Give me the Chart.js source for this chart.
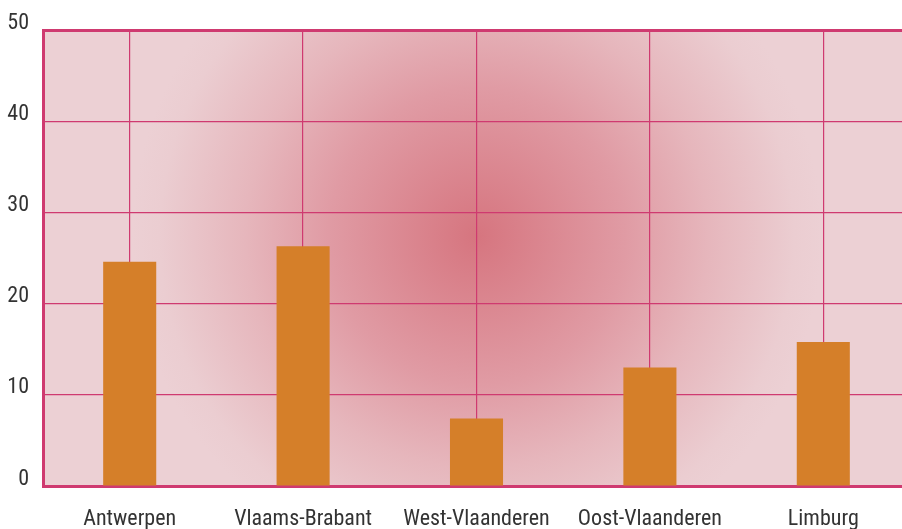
<!DOCTYPE html>
<html>
<head>
<meta charset="utf-8">
<script src="https://cdn.jsdelivr.net/npm/chart.js@4.4.0/dist/chart.umd.min.js"></script>
<style>
  html, body { margin: 0; padding: 0; background: #fff; overflow: hidden; }
  #wrap { width: 910px; height: 529px; }
</style>
</head>
<body>
<div id="wrap"><canvas id="myChart"></canvas></div>
<script>
const provincies = ['Antwerpen', 'Vlaams-Brabant', 'West-Vlaanderen', 'Oost-Vlaanderen', 'Limburg'];
const waarden = [24.6, 26.3, 7.4, 13.0, 15.8];
const yTicks = [0, 10, 20, 30, 40, 50];

const fontFam = '"Liberation Sans Narrow", "Roboto Condensed", "DejaVu Sans Condensed", sans-serif';
const lijnKleur = '#cf3a70';

// roze radiale achtergrond in het plotgebied
const achtergrond = {
    id: 'achtergrond',
    beforeDraw(chart) {
        const { ctx, chartArea: a } = chart;
        const g = ctx.createRadialGradient(477, 236, 0, 477, 236, 345);
        g.addColorStop(0, '#d6757f');
        g.addColorStop(0.43, '#e09ba4');
        g.addColorStop(0.67, '#e6b6bc');
        g.addColorStop(0.92, '#ebcdd1');
        g.addColorStop(1, '#ecd0d4');
        ctx.save();
        ctx.fillStyle = g;
        ctx.fillRect(a.left, a.top, a.right - a.left, a.bottom - a.top);
        ctx.restore();
    }
};

const ctx = document.getElementById('myChart');

new Chart(ctx, {
    type: 'bar',
    data: {
        labels: provincies,
        datasets: [{
            data: waarden,
            backgroundColor: '#d57f29',
            barPercentage: 0.306,
            categoryPercentage: 1
        }]
    },
    options: {
        responsive: true,
        maintainAspectRatio: false,
        animation: false,
        layout: { padding: { top: 30, right: 0, left: 0, bottom: 0 } },
        plugins: { legend: { display: false }, tooltip: { enabled: false } },
        scales: {
            x: {
                grid: { offset: false, color: lijnKleur, lineWidth: 1.2, drawTicks: false },
                border: { color: lijnKleur, width: 3 },
                ticks: { color: '#333', font: { family: fontFam, size: 22 }, padding: 20, maxRotation: 0 },
                afterFit(s) { s.height = 43; }
            },
            y: {
                min: 0,
                max: 50,
                afterBuildTicks(s) { s.ticks = yTicks.map(v => ({ value: v })); },
                grid: {
                    color: lijnKleur,
                    lineWidth: c => (c.tick && c.tick.value === 50 ? 3 : 1.2),
                    drawTicks: false
                },
                border: { color: lijnKleur, width: 3 },
                ticks: { color: '#333', font: { family: fontFam, size: 22 }, padding: 14, labelOffset: -7 },
                afterFit(s) { s.width = 43; }
            }
        }
    },
    plugins: [achtergrond]
});
</script>
</body>
</html>
